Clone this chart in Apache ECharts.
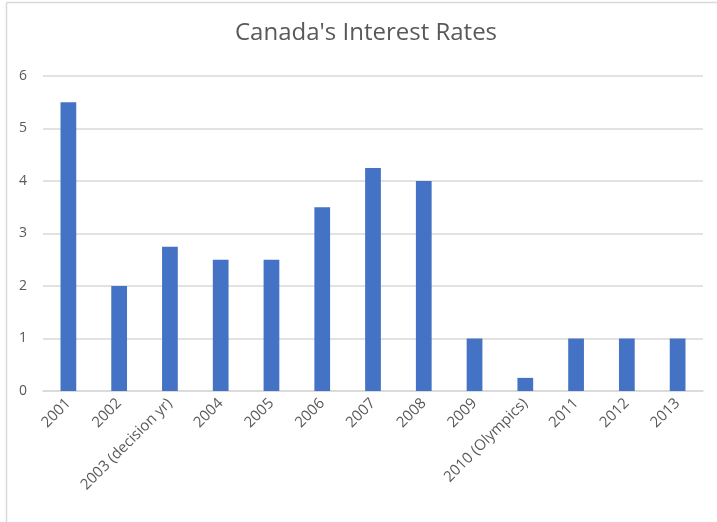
<!DOCTYPE html>
<html>
<head>
<meta charset="utf-8">
<script src="https://cdn.jsdelivr.net/npm/echarts@6/dist/echarts.min.js"></script>
<style>
  html, body { margin: 0; padding: 0; background: #fff; }
  #chart { width: 717px; height: 522px; }
</style>
</head>
<body>
<div id="chart"></div>
<script>
// Bank of Canada rate by year
const years = ['2001', '2002', '2003 (decision yr)', '2004', '2005', '2006', '2007', '2008', '2009', '2010 (Olympics)', '2011', '2012', '2013'];
const rates = [5.5, 2, 2.75, 2.5, 2.5, 3.5, 4.25, 4, 1, 0.25, 1, 1, 1];
const yTicks = [0, 1, 2, 3, 4, 5, 6];

const chart = echarts.init(document.getElementById('chart'));
const textColor = '#595959';
const font = '"Open Sans", "Noto Sans", sans-serif';

chart.setOption({
  backgroundColor: '#ffffff',
  animation: false,
  title: {
    text: "Canada's Interest Rates",
    left: 230,
    top: 16,
    textStyle: { color: textColor, fontSize: 24, fontWeight: 'normal', fontFamily: font }
  },
  graphic: [
    { type: 'line', shape: { x1: 6.5, y1: 2.5, x2: 717, y2: 2.5 }, style: { stroke: '#d9d9d9', lineWidth: 1.5 } },
    { type: 'line', shape: { x1: 6.5, y1: 2.5, x2: 6.5, y2: 522 }, style: { stroke: '#d9d9d9', lineWidth: 1.5 } }
  ],
  grid: { left: 43, right: 14, top: 76, bottom: 131, containLabel: false },
  xAxis: {
    type: 'category',
    data: years,
    axisLine: { show: true, lineStyle: { color: '#d9d9d9', width: 1.5 } },
    axisTick: { show: false },
    axisLabel: {
      rotate: 45,
      interval: 0,
      color: textColor,
      fontSize: 15,
      fontFamily: font,
      margin: 10
    }
  },
  yAxis: {
    type: 'value',
    min: yTicks[0],
    max: yTicks[yTicks.length - 1],
    interval: 1,
    axisLine: { show: false },
    axisTick: { show: false },
    splitLine: { lineStyle: { color: '#d9d9d9', width: 1.5 } },
    axisLabel: {
      color: textColor,
      fontSize: 14,
      fontFamily: font,
      margin: 16
    }
  },
  series: [{
    type: 'bar',
    data: rates,
    barWidth: '31%',
    itemStyle: { color: '#4472c4' }
  }]
});
</script>
</body>
</html>
